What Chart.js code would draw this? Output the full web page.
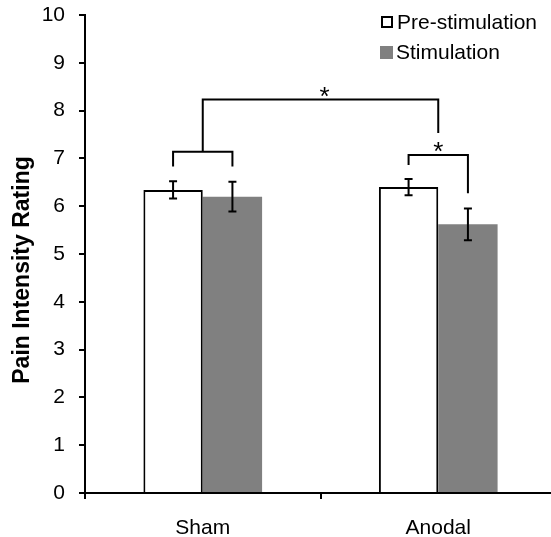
<!DOCTYPE html>
<html>
<head>
<meta charset="utf-8">
<script src="https://cdn.jsdelivr.net/npm/chart.js@4.4.1/dist/chart.umd.min.js"></script>
<style>
    html, body { margin: 0; padding: 0; background: #fff; overflow: hidden; }
    #wrap { width: 560px; height: 537px; }
</style>
</head>
<body>
<div id="wrap"><canvas id="painChart" width="560" height="537"></canvas></div>
<script>
// values
const groups = ["Sham", "Anodal"];
const seriesNames = ["Pre-stimulation", "Stimulation"];
const preMeans = [6.34, 6.40];
const preErrors = [0.18, 0.17];
const stimMeans = [6.20, 5.62];
const stimErrors = [0.31, 0.33];
const yRange = [0, 10];
const yTitle = "Pain Intensity Rating";

// significance brackets (in rating units)
const pairBracketLevels = [7.14, 7.07];
const pairLegBottoms = [[6.83, 6.83], [6.86, 6.27]];
const pairStars = ["", "*"];
const groupBracketLevel = 8.23;
const groupLegBottoms = [7.14, 7.53];
const groupStar = "*";

const FONT = "'Liberation Sans', Arial, sans-serif";
const GRAY = "#808080";

const errorBars = {
    id: "errorBars",
    afterDatasetsDraw(chart) {
        const ctx = chart.ctx;
        const y = chart.scales.y;
        const errs = [preErrors, stimErrors];
        ctx.save();
        ctx.strokeStyle = "#000";
        ctx.lineWidth = 2;
        chart.data.datasets.forEach((ds, i) => {
            chart.getDatasetMeta(i).data.forEach((bar, j) => {
                const hi = y.getPixelForValue(ds.data[j] + errs[i][j]);
                const lo = y.getPixelForValue(ds.data[j] - errs[i][j]);
                ctx.beginPath();
                ctx.moveTo(bar.x, hi); ctx.lineTo(bar.x, lo);
                ctx.moveTo(bar.x - 4, hi); ctx.lineTo(bar.x + 4, hi);
                ctx.moveTo(bar.x - 4, lo); ctx.lineTo(bar.x + 4, lo);
                ctx.stroke();
            });
        });
        ctx.restore();
    }
};

const brackets = {
    id: "brackets",
    afterDatasetsDraw(chart) {
        const ctx = chart.ctx;
        const y = (v) => chart.scales.y.getPixelForValue(v);
        const pre = chart.getDatasetMeta(0).data;
        const stim = chart.getDatasetMeta(1).data;
        const mids = [];
        ctx.save();
        ctx.strokeStyle = "#000";
        ctx.fillStyle = "#000";
        ctx.lineWidth = 2;
        ctx.font = "26px " + FONT;
        ctx.textAlign = "center";
        ctx.textBaseline = "alphabetic";
        groups.forEach((g, j) => {
            const x1 = pre[j].x, x2 = stim[j].x;
            const top = y(pairBracketLevels[j]);
            ctx.beginPath();
            ctx.moveTo(x1, y(pairLegBottoms[j][0]));
            ctx.lineTo(x1, top);
            ctx.lineTo(x2, top);
            ctx.lineTo(x2, y(pairLegBottoms[j][1]));
            ctx.stroke();
            mids.push((x1 + x2) / 2);
            if (pairStars[j]) ctx.fillText(pairStars[j], mids[j], top + 5);
        });
        const gTop = y(groupBracketLevel);
        ctx.beginPath();
        ctx.moveTo(mids[0], y(groupLegBottoms[0]));
        ctx.lineTo(mids[0], gTop);
        ctx.lineTo(mids[1], gTop);
        ctx.lineTo(mids[1], y(groupLegBottoms[1]));
        ctx.stroke();
        ctx.fillText(groupStar, (mids[0] + mids[1]) / 2 + 4, gTop + 5);
        ctx.restore();
    }
};

const sideTitle = {
    id: "sideTitle",
    afterDraw(chart) {
        const ctx = chart.ctx;
        ctx.save();
        ctx.translate(29, 270);
        ctx.rotate(-Math.PI / 2);
        ctx.font = "bold 23px " + FONT;
        ctx.fillStyle = "#000";
        ctx.textAlign = "center";
        ctx.textBaseline = "alphabetic";
        ctx.fillText(yTitle, 0, 0);
        ctx.restore();
    }
};

const boxLegend = {
    id: "boxLegend",
    afterDraw(chart) {
        const ctx = chart.ctx;
        ctx.save();
        ctx.font = "21px " + FONT;
        ctx.fillStyle = "#000";
        ctx.textBaseline = "middle";
        // pre-stimulation: outlined box
        ctx.strokeStyle = "#000";
        ctx.lineWidth = 2;
        ctx.strokeRect(382, 17, 10, 10);
        ctx.fillText(chart.data.datasets[0].label, 397, 23);
        // stimulation: filled box
        ctx.fillStyle = chart.data.datasets[1].backgroundColor;
        ctx.fillRect(380, 46, 13, 13);
        ctx.fillStyle = "#000";
        ctx.fillText(chart.data.datasets[1].label, 396, 53);
        ctx.restore();
    }
};

new Chart(document.getElementById("painChart"), {
    type: "bar",
    data: {
        labels: groups,
        datasets: [
            {
                label: seriesNames[0],
                data: preMeans,
                backgroundColor: "#fff",
                borderColor: "#000",
                borderWidth: 2,
                borderSkipped: "start"
            },
            {
                label: seriesNames[1],
                data: stimMeans,
                backgroundColor: GRAY,
                borderWidth: 0
            }
        ]
    },
    options: {
        responsive: false,
        animation: false,
        devicePixelRatio: 1,
        categoryPercentage: 0.504,
        barPercentage: 1,
        layout: { padding: { top: 15, right: 4, left: 0, bottom: 0 } },
        plugins: {
            legend: { display: false },
            tooltip: { enabled: false }
        },
        scales: {
            x: {
                grid: { offset: true, drawOnChartArea: false, tickLength: 6, color: "#000", lineWidth: 2 },
                border: { color: "#000", width: 2 },
                ticks: { color: "#000", font: { family: FONT, size: 21 }, padding: 17 },
                afterFit: (s) => { s.height = 44; }
            },
            y: {
                min: yRange[0],
                max: yRange[1],
                ticks: { stepSize: 1, color: "#000", font: { family: FONT, size: 21 }, padding: 14 },
                grid: { drawOnChartArea: false, tickLength: 6, color: "#000", lineWidth: 2 },
                border: { color: "#000", width: 2 },
                afterFit: (s) => {
                    s.width = 85;
                    s.paddingTop = 0;
                    s.paddingBottom = 0;
                }
            }
        }
    },
    plugins: [errorBars, brackets, sideTitle, boxLegend]
});
</script>
</body>
</html>
